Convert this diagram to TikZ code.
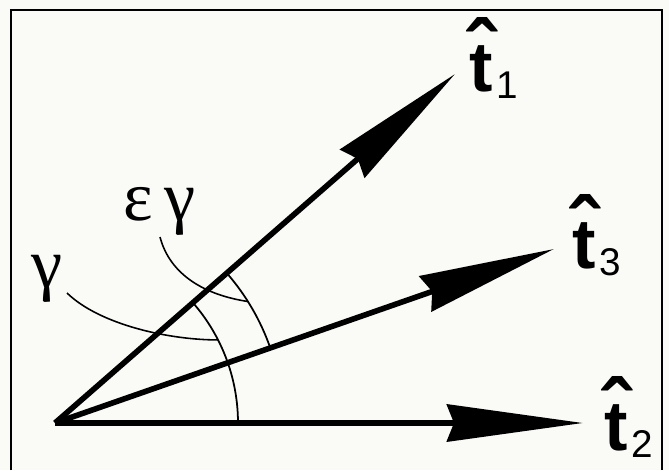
\documentclass[tikz,border=0pt]{standalone}
\usepackage{fontspec}
\setmainfont{Liberation Serif}
\setsansfont{Liberation Sans}
\usetikzlibrary{arrows.meta}
\definecolor{paper}{RGB}{250,250,247}

% hatted t with a large subscript
\newcommand{\unitvec}[1]{{\bfseries\makebox[0pt][l]{\hspace{-0.04em}\raisebox{0.13em}{\scalebox{1.25}[1.22]{ˆ}}}t}\hspace{2pt}\raisebox{-4.5pt}{\fontsize{22}{22}\selectfont #1}}

\tikzset{
  vecline/.style={line width=3.2pt, -{Stealth[length=2.72cm, width=0.74cm, inset=0.14cm]}},
  anglearc/.style={line width=1pt},
  leader/.style={line width=0.9pt},
  veclabel/.style={anchor=base west, inner sep=0pt, font=\fontsize{40}{44}\selectfont\sffamily},
  greeklabel/.style={anchor=base west, inner sep=0pt, font=\fontsize{40}{44}\selectfont},
}

\begin{document}
\begin{tikzpicture}[x=0.02cm, y=-0.02cm]
    % paper and frame (open at the bottom)
    \fill[paper] (0,0) rectangle (669,470);
    \useasboundingbox (0,0) rectangle (669,470);
    \draw[line width=1.1pt] (11,470) -- (11,10) -- (662,10) -- (662,470);

    \coordinate (O) at (55,423);
    \coordinate (T1) at (455,74);
    \coordinate (T3) at (554,249);
    \coordinate (T2) at (583,423);

    \draw[vecline] (O) -- (T1);
    \draw[vecline] (O) -- (T3);
    \draw[vecline] (O) -- (T2);

    % angle arcs
    \draw[anglearc] (O) ++(0:183) arc[start angle=0, end angle=-41.11, radius=183];
    \draw[anglearc] (O) ++(-19.22:228) arc[start angle=-19.22, end angle=-41.11, radius=228];

    \node[veclabel] (l1) at (469,91) {\unitvec{1}};
    \node[veclabel] (l3) at (572,268) {\unitvec{3}};
    \node[veclabel] (l2) at (604,450) {\unitvec{2}};
    \node[greeklabel] (lg) at (31,287) {γ};
    \node[greeklabel] (leg) at (123,220) {ε\,γ};

    % leaders from the labels to the arcs
    \coordinate (lgs) at (67,293);
    \coordinate (les) at (160,237);
    \path (O) ++(-27:183) coordinate (pg);
    \path (O) ++(-32.2:228) coordinate (pe);
    \draw[leader] (lgs) .. controls (100,325) and (170,340) .. (pg);
    \draw[leader] (les) .. controls (170,275) and (205,295) .. (pe);
\end{tikzpicture}
\end{document}
